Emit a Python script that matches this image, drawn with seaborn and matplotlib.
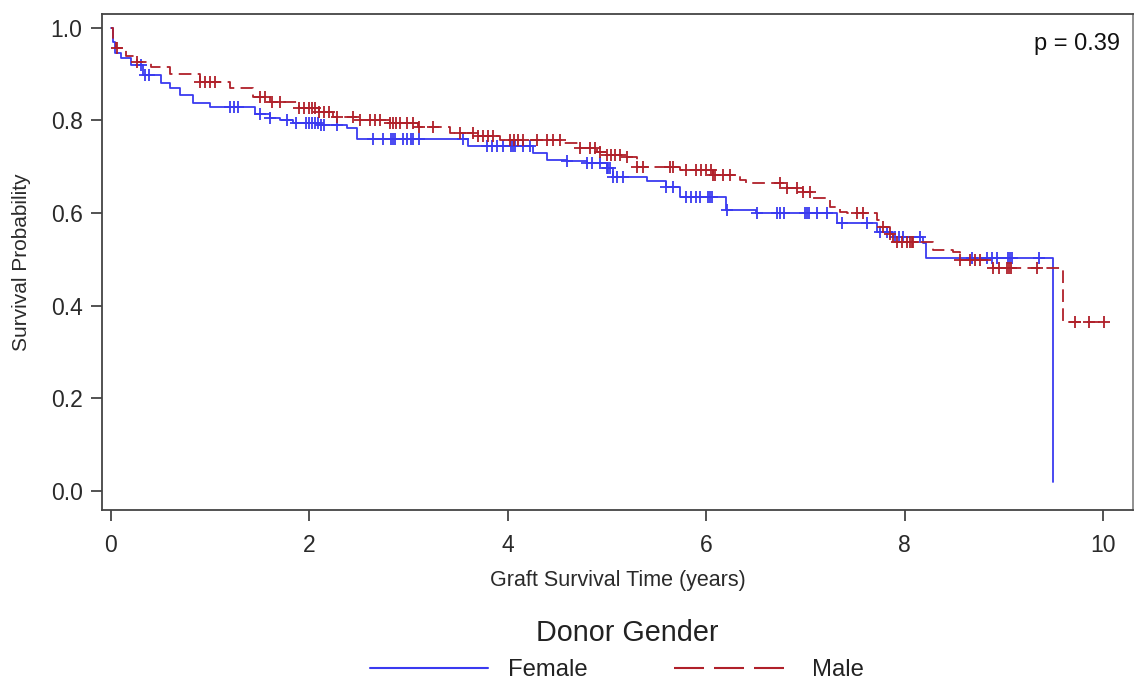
import numpy as np
import pandas as pd
import matplotlib
matplotlib.use("Agg")
import matplotlib.pyplot as plt
from matplotlib.lines import Line2D
import seaborn as sns

# ---- data ----
f_time = [0, 0.02, 0.04, 0.10, 0.20, 0.32, 0.50, 0.60, 0.70, 0.83,
          1.00, 1.45, 1.60, 1.70, 1.83, 2.10, 2.38, 2.48, 3.60, 4.25,
          4.40, 4.60, 4.80, 5.00, 5.06, 5.40, 5.60, 5.74, 6.20, 6.50,
          7.32, 7.72, 7.88, 8.19, 8.22, 9.50]
f_surv = [1.0, 0.97, 0.946, 0.935, 0.92, 0.898, 0.88, 0.87, 0.855, 0.838,
          0.829, 0.815, 0.805, 0.80, 0.795, 0.79, 0.784, 0.760, 0.745, 0.730,
          0.715, 0.712, 0.708, 0.698, 0.678, 0.670, 0.657, 0.635, 0.607, 0.600,
          0.579, 0.559, 0.549, 0.536, 0.503, 0.020]
f_cens = [0.30, 0.34, 0.38, 1.20, 1.24, 1.28, 1.50, 1.60, 1.77, 1.87, 1.97, 2.00,
          2.03, 2.06, 2.09, 2.12, 2.15, 2.28, 2.64, 2.74, 2.82, 2.84, 2.86, 2.94,
          2.98, 3.02, 3.04, 3.11, 3.55, 3.79, 3.84, 3.89, 3.95, 4.03, 4.05, 4.07,
          4.15, 4.22, 4.60, 4.80, 4.85, 4.93, 5.00, 5.01, 5.03, 5.06, 5.10, 5.16,
          5.60, 5.67, 5.80, 5.85, 5.90, 5.94, 6.02, 6.04, 6.06, 6.21, 6.51, 6.71,
          6.74, 6.78, 7.00, 7.02, 7.04, 7.12, 7.22, 7.37, 7.62, 7.75, 7.82, 7.90,
          7.94, 7.98, 8.16, 8.68, 8.83, 8.88, 8.93, 9.04, 9.06, 9.08, 9.36]

m_time = [0, 0.02, 0.05, 0.15, 0.26, 0.40, 0.60, 0.90, 1.20, 1.43,
          1.60, 1.90, 2.10, 2.24, 2.50, 2.81, 3.10, 3.42, 3.70, 3.92,
          4.56, 4.73, 4.90, 5.00, 5.16, 5.30, 5.74, 6.07, 6.34, 6.40,
          6.81, 6.98, 7.08, 7.25, 7.35, 7.42, 7.72, 7.75, 7.85, 7.88,
          8.29, 8.49, 8.56, 8.89, 9.60, 10.03]
m_surv = [1.0, 0.975, 0.957, 0.94, 0.927, 0.915, 0.90, 0.883, 0.87, 0.851,
          0.84, 0.827, 0.818, 0.808, 0.80, 0.795, 0.785, 0.773, 0.767, 0.758,
          0.752, 0.741, 0.733, 0.726, 0.721, 0.700, 0.693, 0.683, 0.672, 0.665,
          0.654, 0.646, 0.633, 0.613, 0.603, 0.600, 0.585, 0.570, 0.555, 0.538,
          0.521, 0.516, 0.499, 0.482, 0.365, 0.365]
m_cens = [0.06, 0.26, 0.90, 0.95, 1.00, 1.05, 1.50, 1.55, 1.62, 1.70, 1.90, 1.95,
          2.00, 2.03, 2.06, 2.10, 2.15, 2.20, 2.28, 2.44, 2.51, 2.61, 2.66, 2.71,
          2.81, 2.84, 2.87, 2.91, 2.98, 3.04, 3.11, 3.25, 3.52, 3.65, 3.70, 3.75,
          3.80, 3.85, 4.02, 4.06, 4.10, 4.15, 4.29, 4.40, 4.46, 4.53, 4.73, 4.83,
          4.88, 4.93, 5.00, 5.04, 5.08, 5.13, 5.20, 5.30, 5.36, 5.64, 5.67, 5.80,
          5.90, 5.95, 6.00, 6.05, 6.07, 6.09, 6.17, 6.24, 6.74, 6.81, 6.92, 6.98,
          7.05, 7.52, 7.58, 7.78, 7.85, 7.92, 7.97, 8.02, 8.05, 8.07, 8.09, 8.56,
          8.66, 8.71, 8.76, 8.89, 8.95, 9.03, 9.05, 9.07, 9.33, 9.72, 9.86, 10.01]

groups = ["Female", "Male"]
colors = {"Female": "#3a3af0", "Male": "#b0202a"}
p_text = "p = 0.39"
legend_title = "Donor Gender"

# ---- build frames ----
curve = pd.concat([
    pd.DataFrame({"time": f_time, "surv": f_surv, "group": "Female"}),
    pd.DataFrame({"time": m_time, "surv": m_surv, "group": "Male"}),
])

def cens_y(times, t_arr, s_arr):
    idx = np.searchsorted(np.asarray(t_arr), np.asarray(times), side="right") - 1
    return np.asarray(s_arr)[idx]

cens = pd.concat([
    pd.DataFrame({"time": f_cens, "surv": cens_y(f_cens, f_time, f_surv), "group": "Female"}),
    pd.DataFrame({"time": m_cens, "surv": cens_y(m_cens, m_time, m_surv), "group": "Male"}),
])

sns.set_style("white")
plt.rcParams["font.family"] = ["Liberation Sans", "DejaVu Sans"]

fig = plt.figure(figsize=(11.35, 6.85), dpi=100)
ax = fig.add_axes([0.0899, 0.2555, 0.9081, 0.7241])

for g in groups:
    sub = curve[curve.group == g]
    ls = "-" if g == "Female" else (0, (7, 3.5))
    sns.lineplot(data=sub, x="time", y="surv", ax=ax, color=colors[g],
                 estimator=None, sort=False, drawstyle="steps-post",
                 linewidth=1.3, linestyle=ls, legend=False)
    csub = cens[cens.group == g]
    ax.plot(csub["time"], csub["surv"], linestyle="none", marker="+",
            markersize=9, markeredgewidth=1.3, color=colors[g])

ax.set_xlim(-0.09, 10.3)
ax.set_ylim(-0.041, 1.03)
ax.set_xticks([0, 2, 4, 6, 8, 10])
ax.set_yticks([0.0, 0.2, 0.4, 0.6, 0.8, 1.0])
ax.set_yticklabels(["0.0", "0.2", "0.4", "0.6", "0.8", "1.0"])
ax.tick_params(axis="both", which="major", bottom=True, left=True,
               direction="out", length=8, width=1.3,
               color="#444444", labelsize=16.5, labelcolor="#2a2a2a")
ax.tick_params(axis="x", pad=9)
ax.tick_params(axis="y", pad=6)
for s in ax.spines.values():
    s.set_color("#444444")
    s.set_linewidth(1.3)
ax.spines["right"].set_color("#888888")
ax.set_xlabel("Graft Survival Time (years)", fontsize=15.5, color="#2a2a2a", labelpad=10)
ax.set_ylabel("Survival Probability", fontsize=15, color="#2a2a2a", labelpad=14)
ax.text(0.9874, 0.9274, p_text, transform=ax.transAxes, ha="right", va="baseline",
        fontsize=17, color="#111111")

fig.text(627 / 1135, 1 - 633 / 685, legend_title, ha="center", va="center",
         fontsize=20.7, color="#222222")
handles = [Line2D([], [], color=colors["Female"], linewidth=1.5),
           Line2D([], [], color=colors["Male"], linewidth=1.5, linestyle=(0, (14.4, 4.8)))]
leg = fig.legend(handles, groups, loc="center",
                 bbox_to_anchor=(617 / 1135, 1 - 670 / 685), ncol=2, frameon=False,
                 fontsize=17.2, handlelength=4.95,
                 handletextpad=0.85, columnspacing=3.6, borderaxespad=0)
for t in leg.get_texts():
    t.set_color("#222222")

fig.savefig("out.png", dpi=100)
